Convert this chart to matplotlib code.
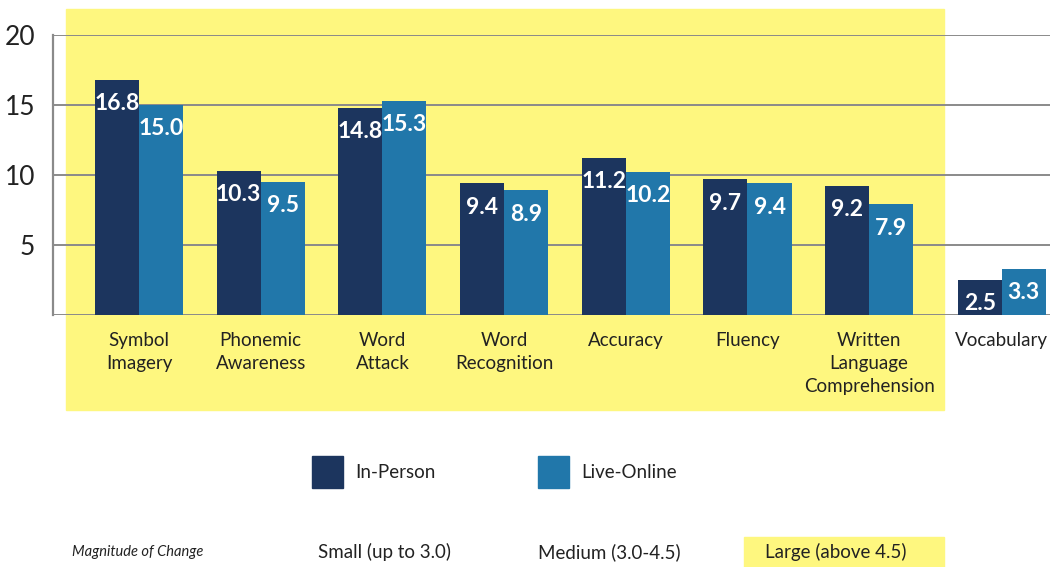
import numpy as np
import matplotlib.pyplot as plt
from matplotlib.patches import Rectangle

# scores by skill area
categories = ["Symbol\nImagery", "Phonemic\nAwareness", "Word\nAttack", "Word\nRecognition",
              "Accuracy", "Fluency", "Written\nLanguage\nComprehension", "Vocabulary"]
in_person = [16.8, 10.3, 14.8, 9.4, 11.2, 9.7, 9.2, 2.5]
live_online = [15.0, 9.5, 15.3, 8.9, 10.2, 9.4, 7.9, 3.3]
series_names = ["In-Person", "Live-Online"]
magnitude = ["Small (up to 3.0)", "Medium (3.0-4.5)", "Large (above 4.5)"]
yticks = [5, 10, 15, 20]

dark = "#1c355e"
light = "#2177aa"
yellow = "#fef77f"
grid_c = "#8a8a8a"

W, H = 1050, 567
fig = plt.figure(figsize=(W / 100, H / 100), dpi=100)
plt.rcParams['font.family'] = ['Lato', 'DejaVu Sans']

def fx(px):
    return px / W

def fy(py):
    return 1 - py / H

ax = fig.add_axes([fx(53), fy(315), 1 - fx(53), (315 - 35) / H])
ax.set_facecolor("none")

# yellow "large change" region behind the bars
ax.add_patch(Rectangle((fx(66), fy(410)), fx(944 - 66), (410 - 9) / H,
                       transform=fig.transFigure, color=yellow, zorder=0, clip_on=False))

x = np.arange(len(categories), dtype=float)
x[-1] = x[-1] + 0.09
w = 0.362

b1 = ax.bar(x - w / 2, in_person, w, color=dark, zorder=3)
b2 = ax.bar(x + w / 2, live_online, w, color=light, zorder=3)

for bars in (b1, b2):
    for r in bars:
        h = r.get_height()
        ax.text(r.get_x() + r.get_width() / 2, h - 0.95, f"{h:.1f}", ha="center", va="top",
                color="white", fontsize=16.5, fontweight="bold", zorder=4)

ax.set_xlim(-0.707, 7.486)
ax.set_ylim(0, 20)
for v in [0] + yticks:
    ax.axhline(v, color=grid_c, lw=1.4, zorder=1)
ax.plot([-0.707, -0.707], [0, 20], color=grid_c, lw=1.6, zorder=2, clip_on=False)
for s in ax.spines.values():
    s.set_visible(False)
ax.set_yticks(yticks)
ax.set_yticklabels([str(t) for t in yticks], fontsize=19, color="#222222")
ax.tick_params(axis="y", length=0, pad=13)
ax.set_xticks(x)
ax.set_xticklabels(categories, fontsize=13.5, color="#222222", linespacing=1.45)
ax.tick_params(axis="x", length=0, pad=12)

# legend
for px, name, c in [(312, series_names[0], dark), (538, series_names[1], light)]:
    fig.patches.append(Rectangle((fx(px), fy(488)), fx(31), 32 / H,
                                 transform=fig.transFigure, color=c))
    fig.text(fx(px + 43), fy(472), name, fontsize=13.5, va="center", color="#222222")

# magnitude key
fig.text(fx(72), fy(552), "Magnitude of Change", fontsize=10.5, style="italic",
         va="center", color="#222222")
fig.patches.append(Rectangle((fx(744), 0), fx(944 - 744), 30 / H,
                             transform=fig.transFigure, color=yellow))
for px, t in zip([318, 538, 765], magnitude):
    fig.text(fx(px), fy(552), t, fontsize=13.5, va="center", color="#222222")

fig.savefig("out.png", dpi=100)
